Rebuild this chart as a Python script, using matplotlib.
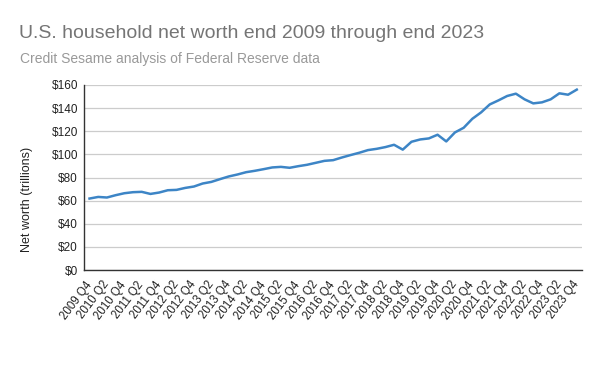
import matplotlib
matplotlib.use("Agg")
import matplotlib.pyplot as plt
import matplotlib.transforms as mtransforms
import numpy as np

plt.rcParams['font.family'] = ['Liberation Sans', 'DejaVu Sans']

# Quarterly labels 2009 Q4 .. 2023 Q4
quarters = []
for y in range(2009, 2024):
    for q in range(1, 5):
        if (y == 2009 and q < 4):
            continue
        quarters.append(f"{y} Q{q}")

net_worth = [61.8, 63.2, 62.7, 64.7, 66.4, 67.3, 67.6, 65.8, 67.0, 69.0,
             69.3, 71.0, 72.2, 74.8, 76.2, 78.6, 80.9, 82.6, 84.6, 85.8,
             87.2, 88.7, 89.2, 88.4, 89.8, 91.0, 92.7, 94.4, 95.0, 97.3,
             99.4, 101.4, 103.7, 104.8, 106.3, 108.3, 104.1, 110.9, 112.9, 113.8,
             117.0, 111.2, 119.0, 123.0, 130.8, 136.3, 143.2, 146.7, 150.5, 152.5,
             147.6, 144.1, 145.0, 147.6, 152.8, 151.6, 156.0]

y_ticks = [0, 20, 40, 60, 80, 100, 120, 140, 160]
y_tick_labels = [f"${v}" for v in y_ticks]

fig = plt.figure(figsize=(6, 3.71), dpi=100)
ax = fig.add_axes([0.1405, 0.2722, 0.8295, 0.4987])

x = np.arange(len(quarters))
ax.plot(x, net_worth, color='#3d85c6', linewidth=1.8, solid_joinstyle='round')

ax.set_xlim(-0.6, len(quarters) - 1 + 0.6)
ax.set_ylim(0, 160)
ax.set_yticks(y_ticks)
ax.set_yticklabels(y_tick_labels, fontsize=8.5, color='#222222')
ax.set_xticks(x[::2])
ax.set_xticklabels(quarters[::2], rotation=53, ha='right', va='center',
                   rotation_mode='anchor', fontsize=8.3, color='#222222')
offset = mtransforms.ScaledTranslation(4 / 100, 0, fig.dpi_scale_trans)
for lbl in ax.get_xticklabels():
    lbl.set_transform(lbl.get_transform() + offset)
ax.tick_params(axis='both', length=0)
ax.tick_params(axis='x', pad=9)
ax.tick_params(axis='y', pad=4.5)
ax.grid(axis='y', color='#cccccc', linewidth=0.9)
ax.set_axisbelow(True)
for s in ['top', 'right']:
    ax.spines[s].set_visible(False)
ax.spines['bottom'].set_color('#333333')
ax.spines['left'].set_color('#333333')
ax.spines['bottom'].set_linewidth(1.0)
ax.spines['left'].set_linewidth(1.0)

fig.text(26.7 / 600, 1 - 199 / 371, 'Net worth (trillions)', rotation=90,
         fontsize=9, color='#222222', ha='center', va='center')

fig.text(19 / 600, 1 - 37.7 / 371, 'U.S. household net worth end 2009 through end 2023',
         fontsize=14, color='#757575', ha='left', va='baseline')
fig.text(19.5 / 600, 1 - 62.7 / 371, 'Credit Sesame analysis of Federal Reserve data',
         fontsize=10, color='#999999', ha='left', va='baseline')

fig.savefig('out.png', dpi=100)
